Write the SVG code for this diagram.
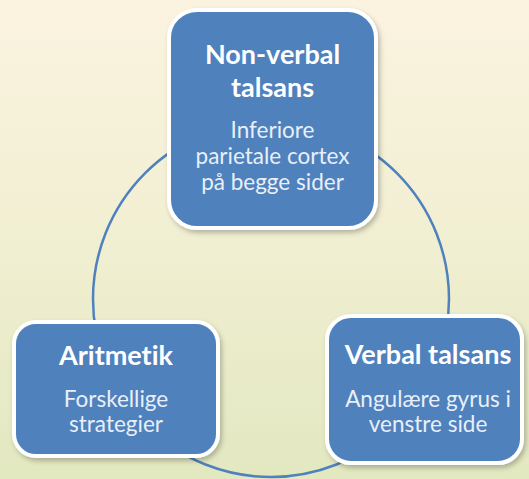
<svg xmlns="http://www.w3.org/2000/svg" width="529" height="479" viewBox="0 0 529 479">
  <defs>
    <linearGradient id="bg" x1="0" y1="0" x2="0" y2="1">
      <stop offset="0" stop-color="#fbf3e0"/>
      <stop offset="0.5" stop-color="#f1efd2"/>
      <stop offset="1" stop-color="#e2e8c0"/>
    </linearGradient>
    <filter id="shadow" x="-10%" y="-10%" width="125%" height="125%">
      <feDropShadow dx="2" dy="3" stdDeviation="2.5" flood-color="#000" flood-opacity="0.25"/>
    </filter>
  </defs>
  <style>
    .box { fill: #4f81bd; stroke: #ffffff; stroke-width: 4; filter: url(#shadow); }
    text { font-variant-ligatures: none; font-feature-settings: "liga" 0; }
    .title { font-family: Lato, "Open Sans", sans-serif; font-weight: bold; font-size: 27px; fill: #ffffff; text-anchor: middle; }
    .sub { font-family: Lato, "Open Sans", sans-serif; font-size: 22.5px; fill: #e9eff8; text-anchor: middle; }
    .link { fill: none; stroke: #4f81bd; stroke-width: 2.5; }
  </style>
  <rect x="0" y="0" width="529" height="479" fill="url(#bg)"/>
  <g id="connectors">
    <circle class="link" cx="271" cy="299" r="178"/>
  </g>
  <g id="node-nonverbal">
    <rect class="box" x="169" y="10" width="207" height="218" rx="28"/>
    <text class="title" x="272.5" y="64">Non-verbal</text>
    <text class="title" x="272.5" y="97">talsans</text>
    <text class="sub" x="272.5" y="138">Inferiore</text>
    <text class="sub" x="272.5" y="164">parietale cortex</text>
    <text class="sub" x="272.5" y="190">på begge sider</text>
  </g>
  <g id="node-aritmetik">
    <rect class="box" x="14" y="322" width="204" height="134" rx="22"/>
    <text class="title" x="116" y="365">Aritmetik</text>
    <text class="sub" x="116" y="407">Forskellige</text>
    <text class="sub" x="116" y="432">strategier</text>
  </g>
  <g id="node-verbal">
    <rect class="box" x="327" y="316" width="195" height="147" rx="24"/>
    <text class="title" x="428" y="364">Verbal talsans</text>
    <text class="sub" x="428" y="407">Angulære gyrus i</text>
    <text class="sub" x="428" y="432">venstre side</text>
  </g>
</svg>
